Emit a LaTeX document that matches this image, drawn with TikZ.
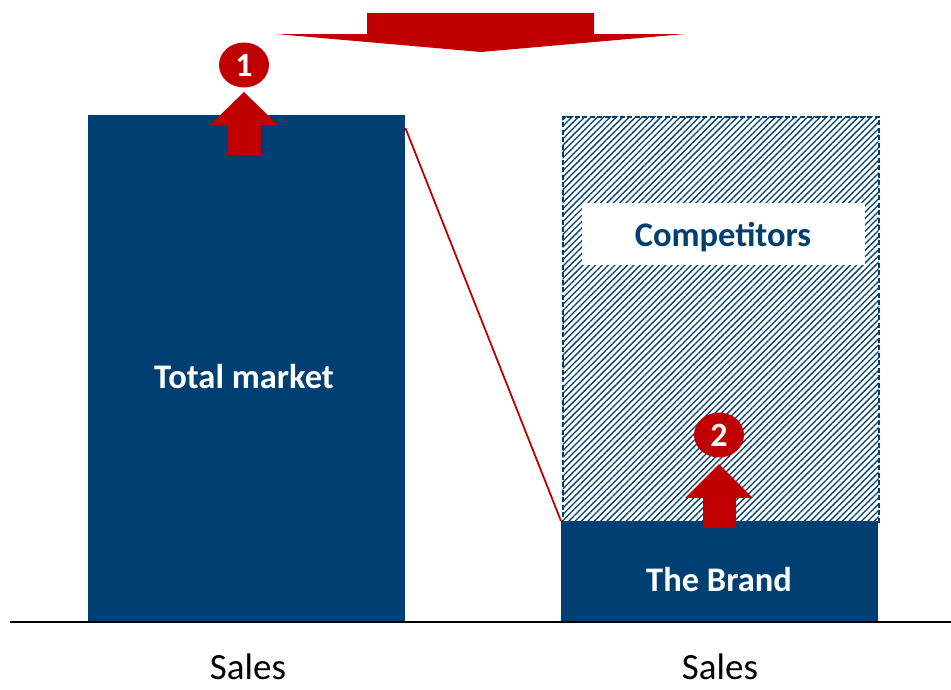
\documentclass[tikz,border=0pt]{standalone}
\usepackage{fontspec}
\setmainfont{Carlito}
\usetikzlibrary{patterns.meta,shapes.geometric}
\definecolor{navy}{RGB}{0,63,114}
\definecolor{brandred}{RGB}{192,0,0}
\begin{document}
\begin{tikzpicture}[x=1pt,y=-1pt,
  bar/.style={fill=navy,draw=none,anchor=north west,inner sep=0pt},
  hatchbox/.style={draw=navy,line width=2pt,dash pattern=on 5pt off 2.5pt,anchor=north west,inner sep=0pt,
   pattern={Lines[angle=45,distance=4.5pt,line width=1.3pt]},pattern color=navy},
  lbl/.style={text=white,inner sep=0pt,font=\bfseries\fontsize{34.5}{36}\selectfont},
  num/.style={ellipse,fill=brandred,text=white,font=\bfseries\fontsize{34}{36}\selectfont,
   minimum width=50pt,minimum height=45pt,inner sep=0pt},
  axis/.style={inner sep=0pt,font=\fontsize{37}{39}\selectfont}]
 \useasboundingbox (0,0) rectangle (951,689);
 \node[bar,minimum width=317pt,minimum height=507pt] (market) at (88,115) {};
 \node[hatchbox,minimum width=316pt,minimum height=405pt] (rivals) at (562,116) {};
 \node[bar,minimum width=317pt,minimum height=101pt] (brand) at (561,521) {};
 \node[fill=white,anchor=north west,inner sep=0pt,minimum width=283pt,minimum height=62pt] (comp) at (582,203) {};
 \node[lbl,text=navy,anchor=base] (complbl) at (723,246) {Competitors};
 \draw[brandred,line width=1.8pt] ([yshift=-13pt]market.north east) -- (brand.north west);
 \fill[brandred] (367,13) -- (594,13) -- (594,34) -- (685,34) -- (481,52) -- (276,34) -- (367,34) -- cycle;
 \fill[brandred] (228,155) -- (228,125) -- (210,125) -- (244,92) -- (278,125) -- (261,125) -- (261,155) -- cycle;
 \fill[brandred] (703,528) -- (703,498) -- (685,498) -- (719,464) -- (753,498) -- (736,498) -- (736,528) -- cycle;
 \node[num] (one) at (244,65) {1};
 \node[num] (two) at (719,435) {2};
 \draw[line width=2.5pt] (10,622) -- (951,622);
 \node[lbl,anchor=base] (marketlbl) at (244,388) {Total market};
 \node[lbl,anchor=base] (brandlbl) at (719,591) {The Brand};
 \node[axis,anchor=base] (salesA) at (248,679) {Sales};
 \node[axis,anchor=base] (salesB) at (720,679) {Sales};
\end{tikzpicture}
\end{document}
